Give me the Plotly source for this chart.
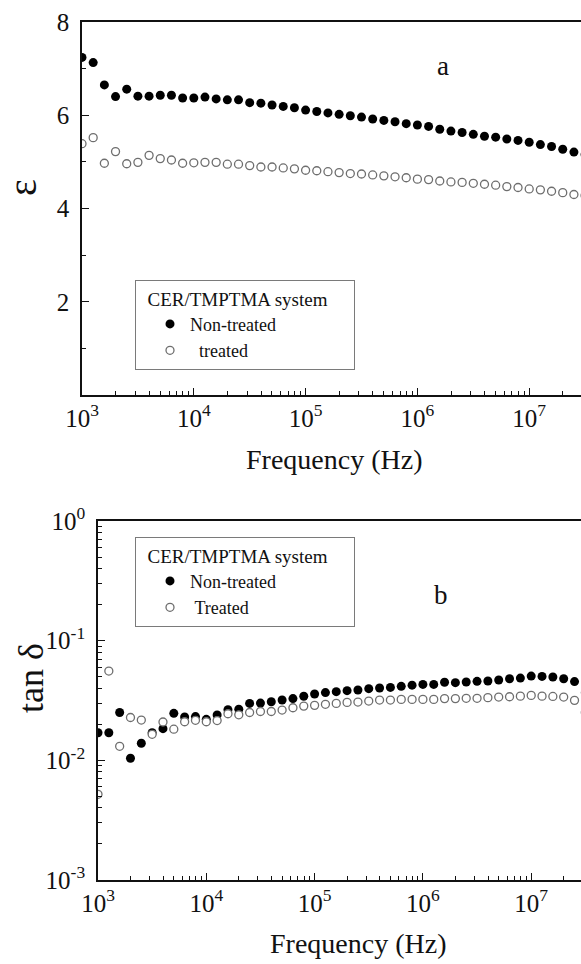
import plotly.graph_objects as go

# Measurement frequencies (Hz), ten points per decade
freq_hz = [
    1.000e3, 1.259e3, 1.585e3, 1.995e3, 2.512e3, 3.162e3, 3.981e3, 5.012e3, 6.310e3, 7.943e3,
    1.000e4, 1.259e4, 1.585e4, 1.995e4, 2.512e4, 3.162e4, 3.981e4, 5.012e4, 6.310e4, 7.943e4,
    1.000e5, 1.259e5, 1.585e5, 1.995e5, 2.512e5, 3.162e5, 3.981e5, 5.012e5, 6.310e5, 7.943e5,
    1.000e6, 1.259e6, 1.585e6, 1.995e6, 2.512e6, 3.162e6, 3.981e6, 5.012e6, 6.310e6, 7.943e6,
    1.000e7, 1.259e7, 1.585e7, 1.995e7, 2.512e7, 3.162e7,
]

# Dielectric constant
eps_non_treated = [
    7.24, 7.13, 6.65, 6.40, 6.56, 6.41, 6.41, 6.43, 6.43, 6.37,
    6.37, 6.39, 6.35, 6.33, 6.33, 6.27, 6.26, 6.22, 6.19, 6.16,
    6.11, 6.08, 6.05, 6.02, 5.99, 5.96, 5.92, 5.89, 5.86, 5.82,
    5.79, 5.76, 5.70, 5.66, 5.63, 5.59, 5.55, 5.53, 5.49, 5.46,
    5.42, 5.37, 5.33, 5.27, 5.21, 5.16,
]
eps_treated = [
    5.39, 5.52, 4.97, 5.22, 4.96, 4.99, 5.14, 5.07, 5.04, 4.97,
    4.98, 4.99, 4.99, 4.95, 4.95, 4.92, 4.89, 4.89, 4.87, 4.85,
    4.82, 4.81, 4.79, 4.77, 4.75, 4.74, 4.72, 4.70, 4.68, 4.66,
    4.63, 4.62, 4.59, 4.57, 4.56, 4.54, 4.52, 4.50, 4.47, 4.45,
    4.42, 4.40, 4.37, 4.34, 4.30, 4.28,
]

# Loss tangent
tan_non_treated = [
    0.0170, 0.0170, 0.0251, 0.0104, 0.0139, 0.0170, 0.0184, 0.0247, 0.0230, 0.0232,
    0.0220, 0.0239, 0.0265, 0.0267, 0.0299, 0.0301, 0.0309, 0.0319, 0.0328, 0.0343,
    0.0358, 0.0368, 0.0375, 0.0382, 0.0387, 0.0397, 0.0402, 0.0407, 0.0415, 0.0425,
    0.0431, 0.0431, 0.0449, 0.0446, 0.0451, 0.0457, 0.0460, 0.0469, 0.0481, 0.0487,
    0.0506, 0.0503, 0.0497, 0.0481, 0.0455, 0.0368,
]
tan_treated = [
    0.0052, 0.0557, 0.0131, 0.0228, 0.0217, 0.0165, 0.0209, 0.0182, 0.0210, 0.0216,
    0.0210, 0.0215, 0.0245, 0.0240, 0.0251, 0.0256, 0.0256, 0.0263, 0.0275, 0.0284,
    0.0288, 0.0294, 0.0299, 0.0305, 0.0307, 0.0313, 0.0319, 0.0319, 0.0323, 0.0323,
    0.0323, 0.0323, 0.0328, 0.0328, 0.0330, 0.0330, 0.0334, 0.0338, 0.0340, 0.0344,
    0.0349, 0.0344, 0.0342, 0.0338, 0.0317, 0.0251,
]

freq_ticks = [1e3, 1e4, 1e5, 1e6, 1e7]
freq_tick_text = ["10<sup>3</sup>", "10<sup>4</sup>", "10<sup>5</sup>", "10<sup>6</sup>", "10<sup>7</sup>"]
eps_ticks = [2, 4, 6, 8]
tan_ticks = [1e-3, 1e-2, 1e-1, 1e0]
tan_tick_text = ["10<sup>-3</sup>", "10<sup>-2</sup>", "10<sup>-1</sup>", "10<sup>0</sup>"]

W, H = 581, 964
SERIF = "'Liberation Serif', 'Times New Roman', Times, serif"
INK = "#111111"
OPEN_GREY = "#6e6e6e"

freq_minor = [m * 10 ** e for e in range(3, 8) for m in range(2, 10)]
tan_minor = [m * 10 ** e for e in range(-3, 0) for m in range(2, 10)]

filled = dict(symbol="circle", size=9, color="black", line=dict(width=0))
hollow = dict(symbol="circle", size=8, color="white", line=dict(width=1.3, color=OPEN_GREY))

fig = go.Figure()
fig.add_trace(go.Scatter(x=freq_hz, y=eps_non_treated, mode="markers", marker=filled,
                         name="Non-treated", xaxis="x", yaxis="y", legend="legend"))
fig.add_trace(go.Scatter(x=freq_hz, y=eps_treated, mode="markers", marker=hollow,
                         name="\u00a0\u00a0treated", xaxis="x", yaxis="y", legend="legend"))
fig.add_trace(go.Scatter(x=freq_hz, y=tan_non_treated, mode="markers", marker=filled,
                         name="Non-treated", xaxis="x2", yaxis="y2", legend="legend2"))
fig.add_trace(go.Scatter(x=freq_hz, y=tan_treated, mode="markers", marker=hollow,
                         name="\u00a0Treated", xaxis="x2", yaxis="y2", legend="legend2"))


def px_x(p):
    return p / W


def px_y(p):
    return 1 - p / H


tick_font = dict(family=SERIF, size=25, color=INK)
axis_common = dict(showgrid=False, zeroline=False, showline=True, linecolor=INK, linewidth=1.6,
                   ticks="inside", ticklen=7, tickwidth=1.4, tickcolor=INK, tickfont=tick_font,
                   automargin=False)
minor_common = dict(ticks="inside", ticklen=4, tickwidth=1.1, tickcolor=INK, showgrid=False)

legend_common = dict(xanchor="left", yanchor="top", bgcolor="white",
                     bordercolor="#7a7a7a", borderwidth=1,
                     font=dict(family=SERIF, size=18, color=INK),
                     title=dict(text="\u00a0\u00a0CER/TMPTMA system\u00a0\u00a0\u00a0\u00a0\u00a0",
                                font=dict(family=SERIF, size=19, color=INK)),
                     tracegroupgap=0, itemwidth=30, indentation=14)

top_left, bot_left = 82, 98
fig.update_layout(
    template="none",
    width=W, height=H,
    margin=dict(l=0, r=0, t=0, b=0, autoexpand=False),
    paper_bgcolor="white", plot_bgcolor="white",
    font=dict(family=SERIF, color=INK),
    showlegend=True,
    xaxis=dict(axis_common, type="log", domain=[px_x(top_left), 1],
               range=[3, 3 + (W - top_left) / 111.8], anchor="y",
               tickvals=freq_ticks, ticktext=freq_tick_text, mirror=True,
               ticklabelstandoff=0, minor=dict(minor_common, tickvals=freq_minor)),
    yaxis=dict(axis_common, domain=[px_y(395), px_y(22)], range=[0, 8], anchor="x",
               tickvals=eps_ticks, ticklabelstandoff=6,
               minor=dict(minor_common, tickvals=[1, 3, 5, 7])),
    xaxis2=dict(axis_common, type="log", domain=[px_x(bot_left), 1],
                range=[3, 3 + (W - bot_left) / 108.3], anchor="y2",
                tickvals=freq_ticks, ticktext=freq_tick_text, mirror=True,
                ticklabelstandoff=0, minor=dict(minor_common, tickvals=freq_minor)),
    yaxis2=dict(axis_common, type="log", domain=[px_y(880), px_y(521)], range=[-3, 0],
                anchor="x2", tickvals=tan_ticks, ticktext=tan_tick_text, ticklabelstandoff=6,
                minor=dict(minor_common, tickvals=tan_minor)),
    legend=dict(legend_common, x=px_x(135), y=px_y(280)),
    legend2=dict(legend_common, x=px_x(135), y=px_y(537)),
)

label_font = dict(family=SERIF, size=28, color=INK)
annotations = [
    dict(text="Frequency (Hz)", x=px_x(334), y=px_y(459), font=label_font),
    dict(text="Frequency (Hz)", x=px_x(358), y=px_y(943), font=label_font),
    dict(text="ε", x=px_x(23), y=px_y(188), font=dict(family=SERIF, size=40, color=INK), textangle=-90),
    dict(text="tan δ", x=px_x(31), y=px_y(678), font=dict(family=SERIF, size=36, color=INK), textangle=-90),
    dict(text="a", x=px_x(443), y=px_y(66), font=dict(family=SERIF, size=27, color=INK)),
    dict(text="b", x=px_x(441), y=px_y(595), font=dict(family=SERIF, size=27, color=INK)),
]
for a in annotations:
    a.update(xref="paper", yref="paper", showarrow=False, xanchor="center", yanchor="middle")
fig.update_layout(annotations=annotations)

fig.write_html("out.html")
